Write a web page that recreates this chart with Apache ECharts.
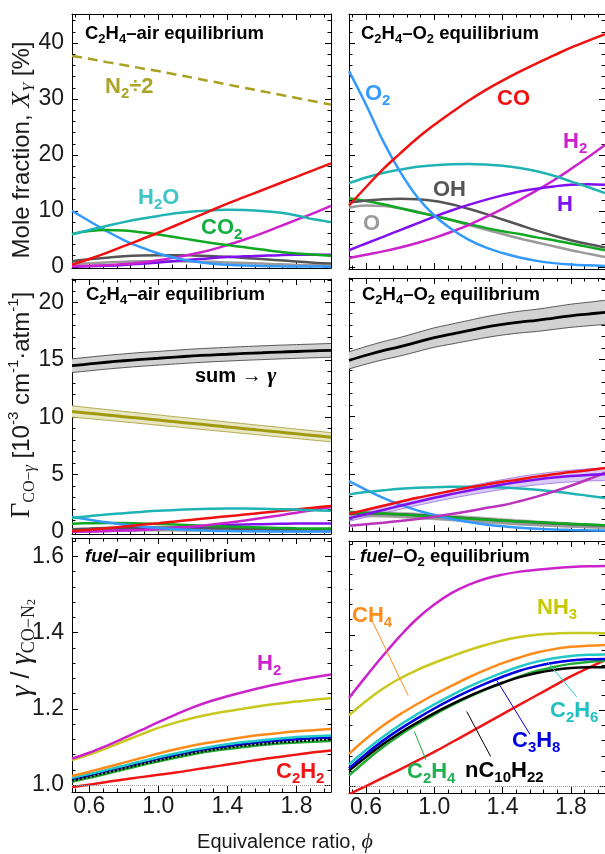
<!DOCTYPE html>
<html><head><meta charset="utf-8">
<script src="https://cdn.jsdelivr.net/npm/echarts@6/dist/echarts.min.js"></script>
<style>html,body{margin:0;padding:0;background:#fff}#c{width:605px;height:854px}</style>
</head><body><div id="c"></div>
<script>
// ---------------- data ----------------
const phi = [0.5,0.6,0.7,0.8,0.9,1.0,1.1,1.2,1.3,1.4,1.5,1.6,1.7,1.8,1.9,2.0];

// mole fractions [%], C2H4-air
const airN2half = [37.7,37.2,36.6,36.1,35.5,35.0,34.4,33.8,33.2,32.6,32.0,31.4,30.8,30.2,29.6,29.0];
const airCO  = [0.4,1.4,2.5,3.7,4.9,6.1,7.4,8.7,10.0,11.3,12.5,13.7,14.9,16.1,17.3,18.5];
const airH2O = [5.8,6.6,7.3,8.0,8.6,9.1,9.6,9.9,10.1,10.2,10.15,10.0,9.7,9.2,8.5,8.0];
const airCO2 = [5.9,6.4,6.6,6.5,6.2,5.8,5.3,4.8,4.3,3.9,3.5,3.1,2.7,2.4,2.2,2.0];
const airO2  = [10.0,8.2,6.4,4.8,3.5,2.4,1.6,1.0,0.6,0.4,0.25,0.15,0.1,0.07,0.05,0.04];
const airH2  = [0.1,0.2,0.3,0.5,0.8,1.2,1.7,2.3,3.0,3.9,4.9,6.0,7.2,8.4,9.6,10.9];
const airH   = [0.05,0.1,0.2,0.35,0.55,0.8,1.05,1.3,1.55,1.75,1.9,2.0,2.1,2.15,2.15,2.15];
const airOH  = [1.0,1.35,1.65,1.9,2.05,2.1,2.1,2.05,1.95,1.8,1.6,1.4,1.2,0.95,0.75,0.6];
const airO   = [0.5,0.65,0.8,0.9,1.0,1.0,1.0,0.95,0.9,0.8,0.7,0.6,0.45,0.35,0.3,0.2];

// mole fractions [%], C2H4-O2
const oxyCO  = [11.0,14.3,17.5,20.3,23.0,25.4,27.6,29.7,31.6,33.3,34.9,36.4,37.8,39.2,40.4,41.6];
const oxyO2  = [35.0,29.0,22.5,17.0,12.5,9.2,6.8,4.9,3.5,2.5,1.7,1.1,0.7,0.45,0.3,0.2];
const oxyH2O = [15.0,16.0,16.8,17.4,17.9,18.2,18.35,18.4,18.3,18.1,17.7,17.1,16.3,15.3,14.3,13.2];
const oxyH   = [3.0,4.2,5.4,6.6,7.8,9.0,10.1,11.1,12.0,12.8,13.5,14.0,14.4,14.7,14.8,14.7];
const oxyH2  = [1.6,2.2,2.8,3.5,4.3,5.2,6.3,7.5,8.9,10.4,12.0,13.7,15.5,17.5,19.6,21.8];
const oxyOH  = [11.5,11.9,12.1,12.2,12.1,11.8,11.2,10.4,9.5,8.5,7.5,6.5,5.6,4.8,4.1,3.5];
const oxyO   = [10.6,11.0,10.9,10.5,9.9,9.2,8.4,7.5,6.7,5.9,5.1,4.4,3.7,3.0,2.4,1.8];
const oxyCO2 = [12.3,11.8,11.2,10.5,9.8,9.1,8.4,7.7,7.0,6.4,5.9,5.3,4.8,4.2,3.6,3.0];

// broadening contributions [1e-3 cm-1 atm-1], C2H4-air
const airSum   = [14.5,14.65,14.8,14.93,15.05,15.15,15.25,15.35,15.43,15.5,15.57,15.63,15.69,15.74,15.79,15.84];
const airSumLo = [13.9,14.05,14.2,14.33,14.45,14.55,14.65,14.75,14.83,14.9,14.97,15.03,15.09,15.14,15.19,15.24];
const airSumHi = [15.1,15.25,15.4,15.53,15.65,15.75,15.85,15.95,16.03,16.1,16.17,16.23,16.29,16.34,16.39,16.44];
const airGN2   = [10.5,10.35,10.2,10.05,9.9,9.75,9.6,9.45,9.3,9.15,9.0,8.85,8.7,8.55,8.4,8.25];
const airGN2Lo = [10.0,9.87,9.73,9.59,9.45,9.3,9.16,9.01,8.86,8.72,8.57,8.43,8.28,8.14,7.99,7.85];
const airGN2Hi = [11.0,10.83,10.67,10.51,10.35,10.2,10.04,9.89,9.74,9.58,9.43,9.27,9.12,8.96,8.81,8.65];
const airGH2O  = [1.2,1.35,1.5,1.62,1.73,1.83,1.9,1.96,2.0,2.02,2.02,2.0,1.97,1.93,1.88,1.82];
const airGO2   = [1.28,1.05,0.82,0.62,0.45,0.32,0.22,0.14,0.09,0.06,0.04,0.03,0.02,0.01,0.01,0.01];
const airGCO   = [0.05,0.17,0.3,0.45,0.6,0.74,0.9,1.05,1.2,1.35,1.5,1.65,1.8,1.95,2.1,2.25];
const airGH2   = [0.02,0.04,0.06,0.1,0.16,0.24,0.34,0.46,0.6,0.78,0.98,1.2,1.42,1.66,1.9,2.15];
const airGCO2  = [0.7,0.74,0.76,0.75,0.72,0.67,0.62,0.56,0.5,0.45,0.41,0.37,0.33,0.3,0.28,0.27];
const airGH    = [0.02,0.03,0.07,0.12,0.18,0.26,0.35,0.43,0.51,0.58,0.63,0.66,0.69,0.71,0.71,0.71];
const airGOH   = [0.2,0.25,0.3,0.33,0.35,0.35,0.35,0.34,0.32,0.3,0.27,0.24,0.2,0.16,0.13,0.1];
const airGO    = [0.08,0.1,0.12,0.13,0.14,0.14,0.14,0.13,0.12,0.11,0.1,0.08,0.07,0.05,0.04,0.03];

// broadening contributions, C2H4-O2
const oxySum   = [14.9,15.35,15.75,16.1,16.5,16.9,17.2,17.5,17.8,18.05,18.25,18.4,18.6,18.8,18.95,19.1];
const oxySumLo = [14.15,14.58,14.96,15.29,15.67,16.05,16.33,16.61,16.89,17.12,17.3,17.43,17.61,17.79,17.92,18.05];
const oxySumHi = [15.65,16.12,16.54,16.91,17.33,17.75,18.07,18.39,18.71,18.98,19.2,19.37,19.59,19.81,19.98,20.15];
const oxyGCO   = [1.5,1.85,2.2,2.55,2.9,3.2,3.5,3.8,4.05,4.3,4.5,4.75,4.95,5.15,5.3,5.5];
const oxyGH    = [1.1,1.47,1.84,2.2,2.56,2.9,3.22,3.52,3.8,4.06,4.3,4.5,4.67,4.8,4.9,4.95];
const oxyGHLo  = [0.85,1.2,1.55,1.89,2.23,2.55,2.85,3.13,3.39,3.63,3.85,4.03,4.18,4.29,4.37,4.4];
const oxyGHHi  = [1.35,1.74,2.13,2.51,2.89,3.25,3.59,3.91,4.21,4.49,4.75,4.97,5.16,5.31,5.43,5.5];
const oxyGH2   = [0.45,0.58,0.72,0.88,1.05,1.25,1.48,1.73,2.0,2.25,2.6,3.0,3.45,3.95,4.5,5.1];
const oxyGH2O  = [3.2,3.4,3.55,3.68,3.77,3.83,3.86,3.87,3.85,3.8,3.72,3.6,3.45,3.28,3.08,2.88];
const oxyGO2   = [4.35,3.6,2.9,2.3,1.8,1.4,1.05,0.78,0.57,0.41,0.29,0.2,0.13,0.09,0.06,0.04];
const oxyGCO2  = [1.65,1.6,1.53,1.45,1.36,1.27,1.18,1.09,1.0,0.92,0.84,0.77,0.7,0.63,0.57,0.5];
const oxyGOH   = [1.5,1.52,1.5,1.46,1.4,1.32,1.22,1.12,1.02,0.92,0.83,0.74,0.66,0.59,0.53,0.47];
const oxyGO    = [1.35,1.38,1.35,1.28,1.2,1.1,1.0,0.9,0.8,0.71,0.62,0.54,0.47,0.41,0.35,0.3];
const oxyGrayLo = [1.2,1.22,1.2,1.14,1.06,0.97,0.87,0.77,0.68,0.59,0.5,0.43,0.37,0.31,0.26,0.22];
const oxyGrayHi = [1.75,1.74,1.7,1.64,1.57,1.49,1.4,1.3,1.2,1.1,1.0,0.9,0.81,0.72,0.64,0.57];

// gamma / gamma_CO-N2, fuel-air
const faH2   = [1.07,1.085,1.103,1.123,1.144,1.165,1.185,1.204,1.22,1.233,1.245,1.256,1.266,1.275,1.283,1.29];
const faNH3  = [1.066,1.08,1.097,1.115,1.133,1.15,1.164,1.176,1.186,1.194,1.201,1.208,1.214,1.219,1.224,1.228];
const faCH4  = [1.024,1.035,1.047,1.059,1.071,1.083,1.094,1.104,1.112,1.119,1.126,1.132,1.137,1.141,1.144,1.147];
const faC2H6 = [1.019,1.029,1.04,1.051,1.062,1.073,1.083,1.092,1.1,1.107,1.113,1.118,1.122,1.126,1.128,1.13];
const faC3H8 = [1.016,1.026,1.037,1.048,1.059,1.069,1.079,1.088,1.096,1.102,1.108,1.113,1.117,1.12,1.123,1.125];
const faC2H4 = [1.009,1.019,1.03,1.041,1.052,1.062,1.072,1.081,1.089,1.095,1.1,1.105,1.109,1.112,1.114,1.116];
const faC10  = [1.012,1.022,1.033,1.044,1.055,1.065,1.075,1.084,1.092,1.098,1.104,1.108,1.112,1.115,1.118,1.12];
const faC2H2 = [0.995,1.001,1.008,1.015,1.021,1.027,1.033,1.04,1.047,1.054,1.061,1.068,1.074,1.08,1.086,1.091];

// gamma / gamma_CO-N2, fuel-O2
const foH2   = [1.233,1.29,1.345,1.397,1.443,1.48,1.51,1.532,1.548,1.559,1.567,1.572,1.576,1.579,1.581,1.582];
const foNH3  = [1.187,1.225,1.258,1.285,1.307,1.326,1.343,1.359,1.373,1.385,1.394,1.4,1.403,1.405,1.405,1.404];
const foCH4  = [1.085,1.125,1.16,1.19,1.217,1.242,1.265,1.287,1.307,1.325,1.34,1.353,1.362,1.368,1.371,1.373];
const foC2H6 = [1.057,1.095,1.13,1.162,1.19,1.216,1.24,1.262,1.282,1.3,1.316,1.329,1.338,1.344,1.347,1.348];
const foC3H8 = [1.047,1.085,1.12,1.151,1.179,1.205,1.229,1.251,1.271,1.289,1.305,1.317,1.326,1.332,1.335,1.336];
const foC10  = [1.041,1.077,1.111,1.141,1.168,1.193,1.216,1.237,1.256,1.273,1.288,1.299,1.307,1.312,1.314,1.314];
const foC2H4 = [1.028,1.067,1.103,1.135,1.163,1.189,1.213,1.235,1.255,1.273,1.29,1.304,1.315,1.323,1.328,1.331];
const foC2H2 = [0.978,1.0,1.022,1.044,1.067,1.09,1.115,1.14,1.165,1.19,1.215,1.24,1.265,1.29,1.312,1.333];

// ticks
const xMajor = [0.6,1.0,1.4,1.8];
const xMinor = [0.52,0.68,0.76,0.84,0.92,1.08,1.16,1.24,1.32,1.48,1.56,1.64,1.72,1.88,1.96];
const yTopMajor = [0,10,20,30,40];
const yTopMinor = [2,4,6,8,12,14,16,18,22,24,26,28,32,34,36,38,42,44];
const yMidMajor = [0,5,10,15,20];
const yMidMinor = [1,2,3,4,6,7,8,9,11,12,13,14,16,17,18,19,21,22];
const yBotMajor = [1.0,1.2,1.4,1.6];
const yBotMinor = [1.04,1.08,1.12,1.16,1.24,1.28,1.32,1.36,1.44,1.48,1.52,1.56,1.64];

// ---------------- chart ----------------
const SANS = '"Liberation Sans", Arial, Helvetica, sans-serif';
const SERIF = '"Liberation Serif", "Times New Roman", serif';
const TXT = '#1a1a1a';

const panels = [
  {g:{left:72, top:14, width:259, height:254}, y:[-0.2,45.2], maj:yTopMajor, min:yTopMinor, xl:false, yl:true, f:v=>String(v)},
  {g:{left:349, top:14, width:256, height:255}, y:[-0.35,45.2], maj:yTopMajor, min:yTopMinor, xl:false, yl:false, f:v=>String(v)},
  {g:{left:72, top:279, width:259, height:255}, y:[-0.2,22.07], maj:yMidMajor, min:yMidMinor, xl:false, yl:true, f:v=>String(v)},
  {g:{left:349, top:278, width:256, height:253}, y:[0,22.1], maj:yMidMajor, min:yMidMinor, xl:false, yl:false, f:v=>String(v)},
  {g:{left:72, top:538, width:259, height:254}, y:[0.982,1.648], maj:yBotMajor, min:yBotMinor, xl:true, yl:true, f:v=>v.toFixed(1)},
  {g:{left:349, top:541, width:256, height:252}, y:[0.9815,1.648], maj:yBotMajor, min:yBotMinor, xl:true, yl:false, f:v=>v.toFixed(1)}
];

const grid = [], xAxis = [], yAxis = [];
panels.forEach((p, gi) => {
  grid.push(Object.assign({outerBoundsMode:'none', containLabel:false}, p.g));
  const base = {type:'value', gridIndex:gi, splitLine:{show:false}};
  const mkX = (pos, vals, len, isMajor, showLab) => Object.assign({}, base, {
    position:pos, min:0.5, max:2.0,
    axisLine:{show:isMajor, onZero:false, lineStyle:{color:'#000', width:1}},
    axisTick:{show:true, inside:true, length:len, customValues:vals, lineStyle:{color:'#000', width:1}},
    axisLabel:{show:showLab, customValues:vals, formatter:v=>v.toFixed(1), fontSize:23, fontFamily:SANS, color:TXT, margin:3}
  });
  const mkY = (pos, vals, len, isMajor, showLab) => Object.assign({}, base, {
    position:pos, min:p.y[0], max:p.y[1],
    axisLine:{show:isMajor, onZero:false, lineStyle:{color:'#000', width:1}},
    axisTick:{show:true, inside:true, length:len, customValues:vals, lineStyle:{color:'#000', width:1}},
    axisLabel:{show:showLab, customValues:vals, formatter:p.f, fontSize:23, fontFamily:SANS, color:TXT, margin:8}
  });
  xAxis.push(mkX('bottom', xMajor, 6, true, p.xl), mkX('bottom', xMinor, 3.5, false, false),
             mkX('top', xMajor, 6, true, false), mkX('top', xMinor, 3.5, false, false));
  yAxis.push(mkY('left', p.maj, 6, true, p.yl), mkY('left', p.min, 3.5, false, false),
             mkY('right', p.maj, 6, true, false), mkY('right', p.min, 3.5, false, false));
});

const series = [];
function ln(gi, arr, color, w, extra) {
  const s = {type:'line', xAxisIndex:gi*4, yAxisIndex:gi*4, data:phi.map((x,i)=>[x,arr[i]]),
    smooth:0.4, symbol:'none', silent:true, animation:false, lineStyle:{color:color, width:w||2.5}, z:3};
  series.push(Object.assign(s, extra||{}));
  return s;
}
// shaded uncertainty band drawn through the axes' scales (api.coord)
function band(gi, lo, hi, fill, border, bw) {
  series.push({type:'custom', xAxisIndex:gi*4, yAxisIndex:gi*4, silent:true, animation:false, z:2, clip:true,
    data:phi.map((x,i)=>[x, lo[i], hi[i]]),
    encode:{x:0, y:[1,2]},
    renderItem:function(params, api) {
      if (params.dataIndex !== 0) return null;
      const top = phi.map((x,i)=>api.coord([x, hi[i]]));
      const bot = phi.map((x,i)=>api.coord([x, lo[i]]));
      return {type:'group', children:[
        {type:'polygon', shape:{points:top.concat(bot.slice().reverse())}, style:{fill:fill, stroke:null}},
        {type:'polyline', shape:{points:top, smooth:0.3}, style:{stroke:border, lineWidth:bw, fill:null}},
        {type:'polyline', shape:{points:bot, smooth:0.3}, style:{stroke:border, lineWidth:bw, fill:null}}
      ]};
    }});
}

const C = {CO:'#f01010', O2:'#3399ff', H2O:'#1fb3b3', CO2:'#10a820', H2:'#cc22cc', H:'#8010f0', OH:'#555555', O:'#9a9a9a', N2:'#a8a020'};

// panel 0
ln(0, airN2half, C.N2, 2.5, {lineStyle:{color:C.N2, width:2.5, type:[10,6]}});
ln(0, airO, C.O); ln(0, airOH, C.OH); ln(0, airH, C.H); ln(0, airH2, C.H2);
ln(0, airO2, C.O2); ln(0, airCO2, C.CO2); ln(0, airH2O, C.H2O); ln(0, airCO, C.CO);
// panel 1
ln(1, oxyO, C.O); ln(1, oxyCO2, C.CO2); ln(1, oxyOH, C.OH); ln(1, oxyH2, C.H2); ln(1, oxyH, C.H);
ln(1, oxyH2O, C.H2O); ln(1, oxyO2, C.O2); ln(1, oxyCO, C.CO);
// panel 2
band(2, airSumLo, airSumHi, '#d2d2d2', '#333333', 0.8);
ln(2, airSum, '#000', 2.8);
band(2, airGN2Lo, airGN2Hi, '#e9e6c2', '#a09a30', 0.8);
ln(2, airGN2, '#a09a10', 3);
ln(2, airGO, C.O, 3); ln(2, airGOH, C.OH, 3); ln(2, airGH, C.H); ln(2, airGCO2, C.CO2);
ln(2, airGH2, C.H2); ln(2, airGO2, C.O2); ln(2, airGCO, C.CO); ln(2, airGH2O, C.H2O);
// panel 3
band(3, oxySumLo, oxySumHi, '#d2d2d2', '#333333', 0.8);
ln(3, oxySum, '#000', 2.8);
band(3, oxyGrayLo, oxyGrayHi, '#b8b8b8', '#a0a0a0', 0.5);
ln(3, oxyGO, C.O); ln(3, oxyGOH, C.OH); ln(3, oxyGCO2, C.CO2);
ln(3, oxyGO2, C.O2); ln(3, oxyGH2O, C.H2O);
band(3, oxyGHLo, oxyGHHi, 'rgba(185,160,235,0.55)', '#9a70e0', 0.8);
ln(3, oxyGH2, '#bb33bb'); ln(3, oxyGH, C.H); ln(3, oxyGCO, C.CO);
// panel 4
const refLine = {silent:true, symbol:'none', label:{show:false}, animation:false,
  lineStyle:{color:'#999', type:'dotted', width:1}, data:[{yAxis:1}]};
ln(4, faC2H2, '#f01414', 2.5, {markLine:refLine});
ln(4, faC2H4, '#22aa33'); ln(4, faC10, '#000', 2.5, {lineStyle:{color:'#000', width:2.5, type:[2,2]}, z:4});
ln(4, faC3H8, '#0000e0'); ln(4, faC2H6, '#22c8c8'); ln(4, faCH4, '#ff8c1a');
ln(4, faNH3, '#c8c81e'); ln(4, faH2, '#cc22cc');
// panel 5
function leader(color, a, b) {
  return {silent:true, symbol:'none', label:{show:false}, animation:false,
    lineStyle:{color:color, type:'solid', width:1}, data:[[{coord:a},{coord:b}]]};
}
ln(5, foC2H2, '#f01414', 2.5, {markLine:refLine});
ln(5, foC2H4, '#22aa33', 2.5, {markLine:leader('#22aa33',[0.883,1.144],[0.951,1.069])});
ln(5, foC10, '#000', 2.5, {markLine:leader('#000',[1.19,1.197],[1.33,1.078])});
ln(5, foC3H8, '#0000e0', 2.5, {markLine:leader('#0000e0',[1.365,1.28],[1.56,1.137])});
ln(5, foC2H6, '#22c8c8', 2.5, {markLine:leader('#22c8c8',[1.668,1.325],[1.834,1.236])});
ln(5, foCH4, '#ff8c1a', 2.5, {markLine:leader('#ff8c1a',[0.633,1.439],[0.847,1.239])});
ln(5, foNH3, '#c8c81e'); ln(5, foH2, '#cc22cc');

// ---------------- text ----------------
function chem(str, color, size, weight) {
  const parts = str.split(/(_\d+|\*[^*]+\*)/).filter(s => s.length);
  const text = parts.map(p => p[0] === '_' ? '{s|' + p.slice(1) + '}' :
                               p[0] === '*' ? '{i|' + p.slice(1, -1) + '}' : '{m|' + p + '}').join('');
  const b = {fill:color, fontFamily:SANS, fontWeight:weight || 'bold'};
  return {text:text, rich:{
    m:Object.assign({}, b, {fontSize:size, lineHeight:Math.round(size*1.3)}),
    i:Object.assign({}, b, {fontSize:size, fontStyle:'italic', lineHeight:Math.round(size*1.3)}),
    s:Object.assign({}, b, {fontSize:Math.round(size*0.7), verticalAlign:'bottom'})
  }};
}
function lab(x, y, str, color, size) {
  return {type:'text', x:x, y:y, z:100, silent:true,
    style:Object.assign(chem(str, color, size), {align:'left', verticalAlign:'middle'})};
}

const graphic = [
  lab(85, 34, 'C_2H_4–air equilibrium', '#000', 18.5),
  lab(361, 34, 'C_2H_4–O_2 equilibrium', '#000', 18.5),
  lab(86, 295, 'C_2H_4–air equilibrium', '#000', 18.5),
  lab(362, 295, 'C_2H_4–O_2 equilibrium', '#000', 18.5),
  lab(85, 557, '*fuel*–air equilibrium', '#000', 18.5),
  lab(360, 557, '*fuel*–O_2 equilibrium', '#000', 18.5),

  lab(105, 87, 'N_2÷2', '#aca42a', 22),
  lab(138, 198, 'H_2O', '#3ec6c6', 22),
  lab(201, 228, 'CO_2', '#12b040', 22),

  lab(365, 94, 'O_2', '#3399ff', 22),
  lab(497, 99, 'CO', '#f01010', 22),
  lab(563, 142, 'H_2', '#cc22cc', 22),
  lab(433, 190, 'OH', '#555555', 22),
  lab(557, 205, 'H', '#8010f0', 22),
  lab(363, 224, 'O', '#9a9a9a', 22),

  {type:'text', x:195, y:376, z:100, silent:true, style:{
    text:'{a|sum → }{g|γ}', align:'left', verticalAlign:'middle',
    rich:{a:{fill:'#000', fontFamily:SANS, fontWeight:'bold', fontSize:20},
          g:{fill:'#000', fontFamily:SERIF, fontWeight:'bold', fontStyle:'italic', fontSize:22}}}},

  lab(257, 664, 'H_2', '#cc22cc', 22),
  lab(276, 772, 'C_2H_2', '#f01414', 22),

  lab(352, 616, 'CH_4', '#ff8c1a', 22),
  lab(537, 608, 'NH_3', '#c8c800', 22),
  lab(550, 711, 'C_2H_6', '#20c0c0', 22),
  lab(512, 741, 'C_3H_8', '#0000e0', 22),
  lab(407, 772, 'C_2H_4', '#20b050', 22),
  lab(465, 771, 'nC_10H_22', '#000', 22),

  // axis titles
  {type:'text', x:22, y:150, rotation:Math.PI/2, z:100, silent:true, style:{
    text:'{t|Mole fraction, }{i|X}{s|Y}{t| [%]}', align:'center', verticalAlign:'middle',
    rich:{t:{fill:TXT, fontFamily:SANS, fontSize:24, lineHeight:31},
          i:{fill:TXT, fontFamily:SERIF, fontStyle:'italic', fontSize:26, lineHeight:31},
          s:{fill:TXT, fontFamily:SERIF, fontStyle:'italic', fontSize:16, verticalAlign:'bottom'}}}},
  {type:'text', x:22, y:405, rotation:Math.PI/2, z:100, silent:true, style:{
    text:'{g|Γ}{s|CO−}{si|γ}{t| [10}{p|-3}{t| cm}{p|-1}{t|·atm}{p|-1}{t|]}', align:'center', verticalAlign:'middle',
    rich:{t:{fill:TXT, fontFamily:SANS, fontSize:24, lineHeight:31},
          g:{fill:TXT, fontFamily:SERIF, fontSize:27, lineHeight:31},
          s:{fill:TXT, fontFamily:SERIF, fontSize:16, verticalAlign:'bottom'},
          si:{fill:TXT, fontFamily:SERIF, fontStyle:'italic', fontSize:16, verticalAlign:'bottom'},
          p:{fill:TXT, fontFamily:SANS, fontSize:15, verticalAlign:'top'}}}},
  {type:'text', x:22, y:648, rotation:Math.PI/2, z:100, silent:true, style:{
    text:'{g|γ}{t| / }{g|γ}{s|CO−N}{ss|2}', align:'center', verticalAlign:'middle',
    rich:{t:{fill:TXT, fontFamily:SANS, fontSize:25, lineHeight:32},
          g:{fill:TXT, fontFamily:SERIF, fontStyle:'italic', fontSize:29, lineHeight:32},
          s:{fill:TXT, fontFamily:SERIF, fontSize:18, lineHeight:19, verticalAlign:'bottom'},
          ss:{fill:TXT, fontFamily:SERIF, fontSize:12, verticalAlign:'bottom'}}}},
  {type:'text', x:285, y:842, z:100, silent:true, style:{
    text:'{t|Equivalence ratio, }{i|ϕ}', align:'center', verticalAlign:'middle',
    rich:{t:{fill:TXT, fontFamily:SANS, fontSize:20, lineHeight:26},
          i:{fill:TXT, fontFamily:SERIF, fontStyle:'italic', fontSize:22, lineHeight:26}}}}
];

const chart = echarts.init(document.getElementById('c'), null, {renderer:'canvas'});
chart.setOption({animation:false, backgroundColor:'#fff', grid, xAxis, yAxis, series, graphic});
</script>
</body></html>
